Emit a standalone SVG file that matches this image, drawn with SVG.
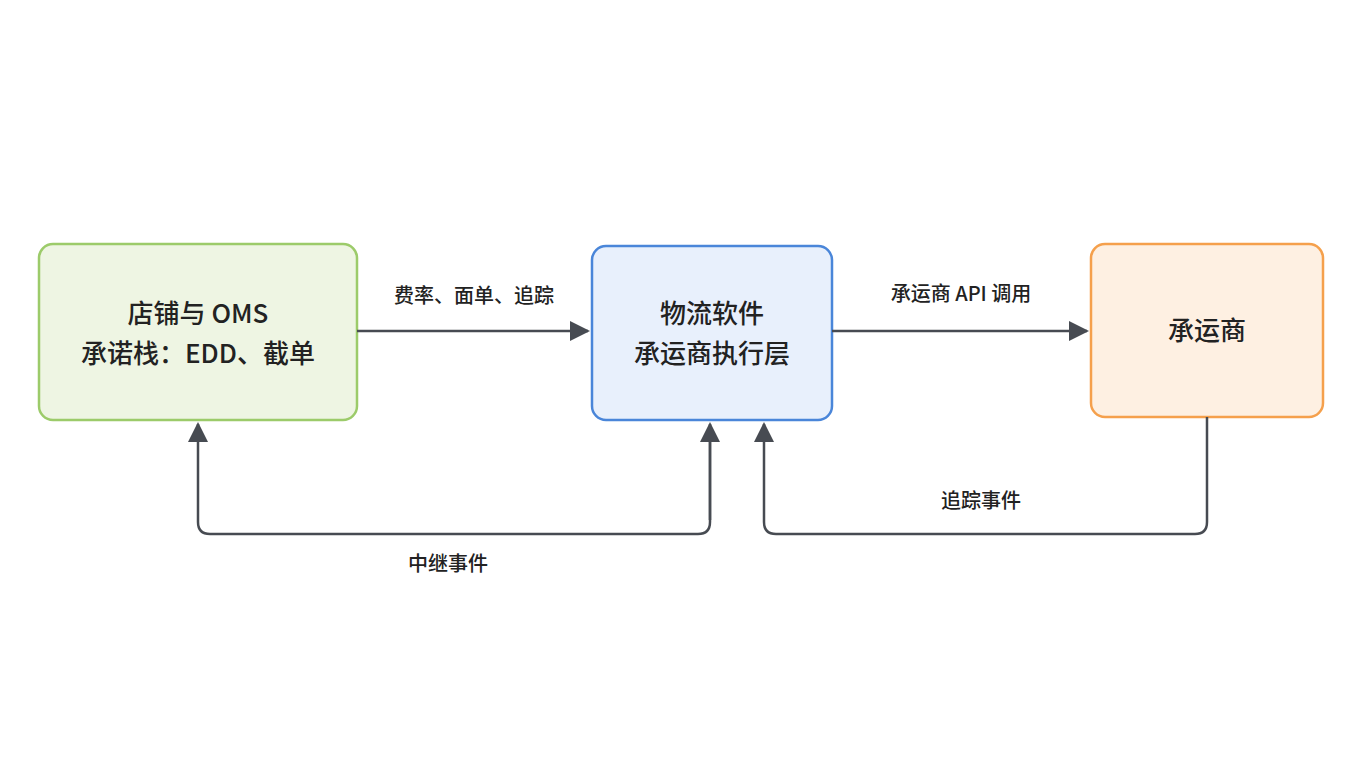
<svg xmlns="http://www.w3.org/2000/svg" width="1360" height="768" viewBox="0 0 1360 768">
<style>
.t{font-family:"Noto Sans CJK SC","Liberation Sans",sans-serif;fill:#222;text-anchor:middle;font-weight:500}
.n{font-size:26px}.l{font-size:20px}
.c{fill:none;stroke:#474b52;stroke-width:2.5}
</style>
<defs><marker id="b" viewBox="0 0 10 10" refX="9" refY="5" markerWidth="8" markerHeight="8" orient="auto"><path d="M0,0L10,5L0,10z" fill="#474b52"/></marker></defs>
<rect width="1360" height="768" fill="#fff"/>
<g id="oms"><rect x="39" y="244" width="318" height="176" rx="14" fill="#eef5e3" stroke="#9ccb6a" stroke-width="2.5"/>
<text class="t n" x="198" y="323">店铺与 OMS</text><text class="t n" x="198" y="363">承诺栈：EDD、截单</text></g>
<g id="soft"><rect x="592" y="246" width="240" height="174" rx="14" fill="#e8f0fc" stroke="#4a86d9" stroke-width="2.5"/>
<text class="t n" x="712" y="323">物流软件</text><text class="t n" x="712" y="363">承运商执行层</text></g>
<g id="carrier"><rect x="1091" y="244" width="232" height="173" rx="14" fill="#fef0e2" stroke="#f5a04c" stroke-width="2.5"/>
<text class="t n" x="1207" y="340">承运商</text></g>
<g id="edges">
<path class="c" d="M357,331H588" marker-end="url(#b)"/>
<path class="c" d="M832,331H1087" marker-end="url(#b)"/>
<path class="c" d="M710,440V522Q710,534 698,534H210Q198,534 198,522V424" marker-end="url(#b)"/>
<path class="c" d="M710,520V424" marker-end="url(#b)"/>
<path class="c" d="M1207,417V522Q1207,534 1195,534H776Q764,534 764,522V424" marker-end="url(#b)"/>
<text class="t l" x="474" y="303">费率、面单、追踪</text>
<text class="t l" x="961" y="301">承运商 API 调用</text>
<text class="t l" x="981" y="508">追踪事件</text>
<text class="t l" x="448" y="571">中继事件</text>
</g>
</svg>
